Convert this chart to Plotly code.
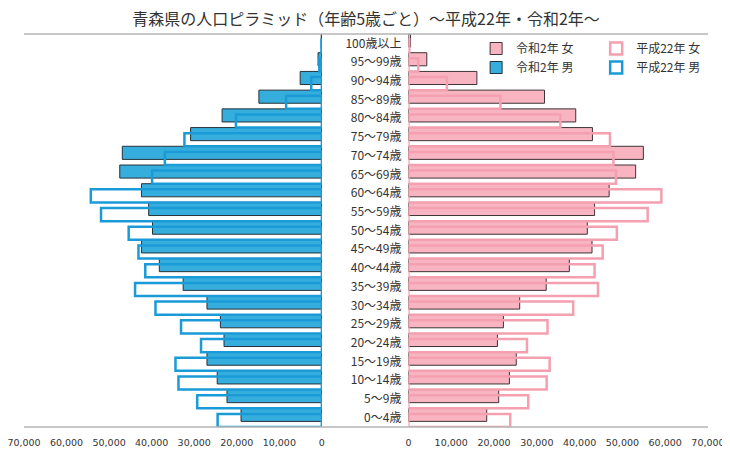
import plotly.graph_objects as go

# age groups, bottom to top
ages = ['0～4歳', '5～9歳', '10～14歳', '15～19歳', '20～24歳', '25～29歳',
        '30～34歳', '35～39歳', '40～44歳', '45～49歳', '50～54歳', '55～59歳',
        '60～64歳', '65～69歳', '70～74歳', '75～79歳', '80～84歳', '85～89歳',
        '90～94歳', '95～99歳', '100歳以上']

# 令和2年
male_r2 = [19000, 22300, 24600, 27000, 23000, 23850, 27000, 32600, 38200, 42400,
           39800, 40700, 42400, 47500, 46900, 30850, 23450, 14800, 5100, 900, 150]
female_r2 = [18300, 21100, 23600, 25200, 20800, 22200, 26000, 32200, 37600, 42900,
             41800, 43500, 46900, 53100, 54900, 43000, 39100, 31800, 16000, 4300, 500]

# 平成22年
male_h22 = [24500, 29300, 33700, 34400, 28400, 33100, 39100, 43900, 41500, 43100,
            45400, 51900, 54300, 39900, 36900, 32300, 20200, 8400, 2500, 600, 100]
female_h22 = [23800, 28000, 32300, 33000, 27700, 32500, 38500, 44300, 43500, 45400,
              48700, 55900, 59100, 48500, 47900, 47100, 35500, 21500, 9000, 2300, 200]

x_ticks = list(range(0, 70001, 10000))

TITLE = '青森県の人口ピラミッド（年齢5歳ごと）～平成22年・令和2年～'
JP_FONT = 'Noto Sans CJK JP'

fig = go.Figure()

# filled bars (R2) first, outlines (H22) drawn on top
fig.add_trace(go.Bar(
    x=male_r2, y=ages, orientation='h', name='令和2年 男',
    xaxis='x', yaxis='y', width=0.7, offset=-0.2,
    marker=dict(color='#36AEDD', line=dict(color='#26323a', width=1)),
    legend='legend', legendrank=2, hoverinfo='x+y+name'))
fig.add_trace(go.Bar(
    x=female_r2, y=ages, orientation='h', name='令和2年 女',
    xaxis='x2', yaxis='y2', width=0.7, offset=-0.2,
    marker=dict(color='#F8B4C0', line=dict(color='#3e3436', width=1)),
    legend='legend', legendrank=1, hoverinfo='x+y+name'))
fig.add_trace(go.Bar(
    x=male_h22, y=ages, orientation='h', name='平成22年 男',
    xaxis='x', yaxis='y', width=0.7, offset=-0.5,
    marker=dict(color='rgba(0,0,0,0)', line=dict(color='#1A9BD7', width=2.5)),
    legend='legend2', legendrank=2, hoverinfo='x+y+name'))
fig.add_trace(go.Bar(
    x=female_h22, y=ages, orientation='h', name='平成22年 女',
    xaxis='x2', yaxis='y2', width=0.7, offset=-0.5,
    marker=dict(color='rgba(0,0,0,0)', line=dict(color='#F4A0B0', width=2.5)),
    legend='legend2', legendrank=1, hoverinfo='x+y+name'))

tick_font = dict(family='DejaVu Sans', size=9.5, color='#333')
x_common = dict(tickvals=x_ticks, tickformat=',', showgrid=False, zeroline=False,
                showline=False, ticks='', tickfont=tick_font, ticklabelstandoff=8,
                ticklabeloverflow='allow', automargin=False)
y_common = dict(categoryorder='array', categoryarray=ages, range=[-0.5, 20.5],
                showgrid=False, zeroline=False, showline=False, ticks='',
                automargin=False)

# page body has an 8px margin, so the figure is laid out 8px up/left
fig.update_layout(
    width=730, height=456,
    margin=dict(l=16, r=30, t=26, b=37),
    paper_bgcolor='white', plot_bgcolor='white',
    barmode='overlay',
    title=dict(text=TITLE, x=0.5, xref='paper', y=1 - 11.5 / 456, yref='container',
               yanchor='middle', font=dict(family=JP_FONT, size=16, color='#333')),
    xaxis=dict(domain=[0, 0.4355], range=[70000, 0], anchor='y', **x_common),
    xaxis2=dict(domain=[0.562, 1], range=[0, 70000], anchor='y2', **x_common),
    yaxis=dict(anchor='x', showticklabels=False, **y_common),
    yaxis2=dict(anchor='x2', showticklabels=True, ticklabelstandoff=6,
                tickfont=dict(family=JP_FONT, size=12, color='#333'), **y_common),
    legend=dict(x=0.661, y=1.0, xanchor='left', yanchor='top',
                bgcolor='rgba(0,0,0,0)', tracegroupgap=0,
                font=dict(family=JP_FONT, size=12, color='#333')),
    legend2=dict(x=0.8365, y=1.0, xanchor='left', yanchor='top',
                 bgcolor='rgba(0,0,0,0)', tracegroupgap=0,
                 font=dict(family=JP_FONT, size=12, color='#333')),
    shapes=[
        dict(type='line', xref='paper', yref='paper', x0=0, x1=1, y0=1, y1=1,
             line=dict(color='#b4b4b4', width=1.5)),
        dict(type='line', xref='paper', yref='paper', x0=0, x1=1, y0=0, y1=0,
             line=dict(color='#b4b4b4', width=1.5)),
    ],
)

fig.write_html("out.html")
